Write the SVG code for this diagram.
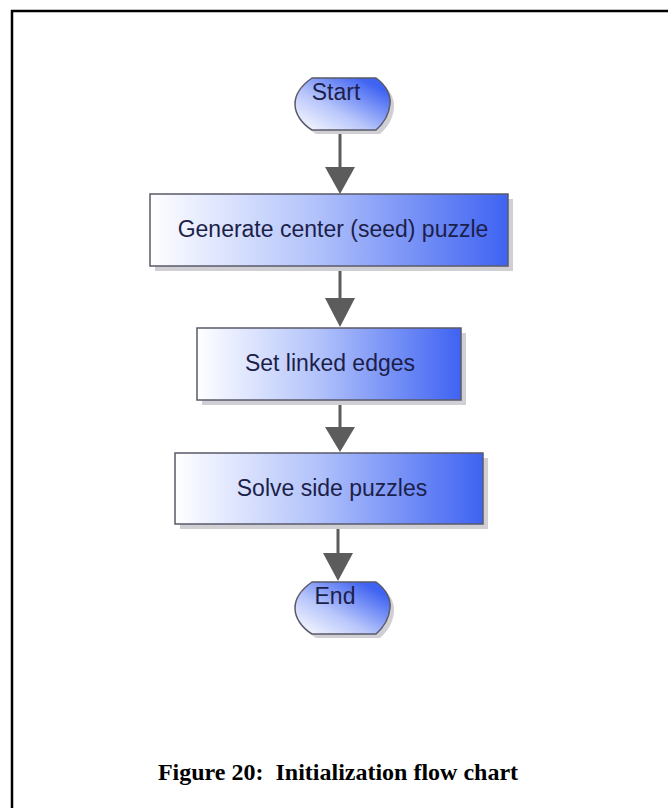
<svg xmlns="http://www.w3.org/2000/svg" width="668" height="808" viewBox="0 0 668 808">
<defs>
<linearGradient id="gBox" x1="0" y1="0" x2="1" y2="0">
<stop offset="0" stop-color="#ffffff"/>
<stop offset="0.45" stop-color="#b4c4fb"/>
<stop offset="1" stop-color="#3f63f2"/>
</linearGradient>
<linearGradient id="gTerm" x1="0" y1="1" x2="1" y2="0">
<stop offset="0" stop-color="#ffffff"/>
<stop offset="0.4" stop-color="#b8c6fb"/>
<stop offset="0.85" stop-color="#3f63f2"/>
</linearGradient>
<path id="term" d="M17,0 H81 C91,7 96,17 95,26 C94,37 88,46 81,52 H17 C7,46 0,36 0,26 C0,16 7,7 17,0 Z"/>
</defs>
<style>
.frame{fill:none;stroke:#000;stroke-width:2.5}
.box{fill:url(#gBox);stroke:#5a5a6a;stroke-width:1.5}
.trm{fill:url(#gTerm);stroke:#5a5a6a;stroke-width:1.5}
.shd{fill:#cfcfd4}
.lbl{font-family:"Liberation Sans",Arial,sans-serif;font-size:23px;fill:#1c1f4a;text-anchor:middle}
.stem{stroke:#5c5c5c;stroke-width:3}
.head{fill:#5c5c5c}
.cap{font-family:"Liberation Serif","Times New Roman",serif;font-weight:bold;font-size:24px;fill:#000;text-anchor:middle}
</style>
<rect width="668" height="808" fill="#fff"/>
<path class="frame" d="M12,808 V11 H668"/>
<g id="connectors">
<line class="stem" x1="340" y1="130" x2="340" y2="168"/>
<polygon class="head" points="325,167 355,167 340,194"/>
<line class="stem" x1="340" y1="266" x2="340" y2="299"/>
<polygon class="head" points="325,298 355,298 340,327"/>
<line class="stem" x1="340" y1="400" x2="340" y2="428"/>
<polygon class="head" points="325,427 355,427 340,452"/>
<line class="stem" x1="338" y1="524" x2="338" y2="554"/>
<polygon class="head" points="323,553 353,553 338,581"/>
</g>
<g id="start">
<use href="#term" x="299" y="82" class="shd"/>
<use href="#term" x="295" y="78" class="trm"/>
<text class="lbl" x="336" y="100">Start</text>
</g>
<g id="generate">
<rect class="shd" x="155" y="199" width="358" height="72"/>
<rect class="box" x="150" y="194" width="358" height="72"/>
<text class="lbl" x="333" y="237">Generate center (seed) puzzle</text>
</g>
<g id="setlinked">
<rect class="shd" x="202" y="333" width="264" height="72"/>
<rect class="box" x="197" y="328" width="264" height="72"/>
<text class="lbl" x="330" y="371">Set linked edges</text>
</g>
<g id="solve">
<rect class="shd" x="180" y="458" width="308" height="71"/>
<rect class="box" x="175" y="453" width="308" height="71"/>
<text class="lbl" x="332" y="496">Solve side puzzles</text>
</g>
<g id="end">
<use href="#term" x="299" y="586" class="shd"/>
<use href="#term" x="295" y="582" class="trm"/>
<text class="lbl" x="335" y="604">End</text>
</g>
<text class="cap" x="338" y="780" xml:space="preserve">Figure 20:  Initialization flow chart</text>
</svg>
